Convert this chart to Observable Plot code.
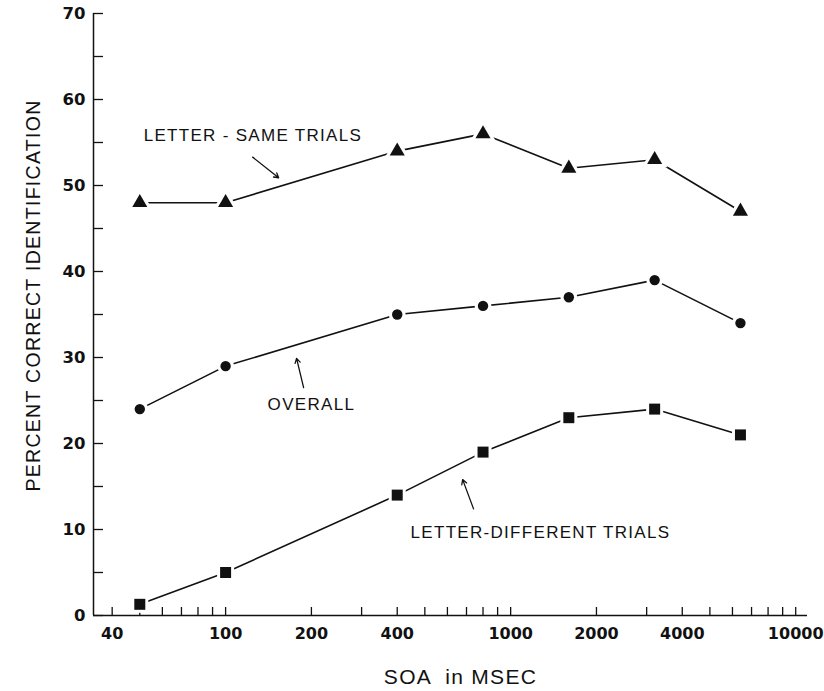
<!DOCTYPE html>
<html>
<head>
<meta charset="utf-8">
<script src="https://cdn.jsdelivr.net/npm/d3@7"></script>
<script src="https://cdn.jsdelivr.net/npm/@observablehq/plot@0.6"></script>
<style>
  html, body { margin: 0; padding: 0; background: #fff; }
  #chart svg [aria-label="text"] text { letter-spacing: 1.3px; }
</style>
</head>
<body>
<div id="chart"></div>
<script>
// ---- data ----
const soa = [50, 100, 400, 800, 1600, 3200, 6400];
const letterSame = [48, 48, 54, 56, 52, 53, 47];
const overall = [24, 29, 35, 36, 37, 39, 34];
const letterDifferent = [1.3, 5, 14, 19, 23, 24, 21];

const seriesNames = ["LETTER - SAME TRIALS", "OVERALL", "LETTER-DIFFERENT TRIALS"];
const seriesValues = [letterSame, overall, letterDifferent];
const seriesSymbols = ["triangle", "circle", "square"];

const xTickLabels = [40, 100, 200, 400, 1000, 2000, 4000, 10000];
const xMinorTicks = [40, 50, 60, 70, 80, 90, 100, 200, 300, 400, 500, 600, 700, 800, 900,
                     1000, 2000, 3000, 4000, 5000, 6000, 7000, 8000, 9000, 10000];
const yTickLabels = [0, 10, 20, 30, 40, 50, 60, 70];
const yMinorTicks = [5, 15, 25, 35, 45, 55, 65];

const xTitle = "SOA  in MSEC";
const yTitle = "PERCENT CORRECT IDENTIFICATION";

// annotation anchors (data units)
const labelX = [51.6, 140.4, 445.6];
const labelY = [55.8, 24.5, 9.65];
const arrowX1 = [124.4, 187.8, 741];
const arrowY1 = [53.3, 26.5, 12.4];
const arrowX2 = [153.5, 177.4, 678.6];
const arrowY2 = [50.9, 29.9, 15.8];

// ---- build ----
const rows = seriesNames.flatMap((name, s) =>
  soa.map((x, i) => ({series: name, x, y: seriesValues[s][i]})));

const W = 824, H = 691;
const mL = 93, mR = 17, mT = 13, mB = 76;
const plotW = W - mL - mR, plotH = H - mT - mB;
const ink = "#111";

const symbolR = {triangle: 5.6, circle: 5.2, square: 6.2};
const haloR = {triangle: 9.6, circle: 8.4, square: 9.6};

const dotMarks = [];
seriesNames.forEach((name, s) => {
  const sym = seriesSymbols[s];
  const d = rows.filter(r => r.series === name);
  dotMarks.push(Plot.dot(d, {x: "x", y: "y", symbol: sym, r: haloR[sym], fill: "white", stroke: "none"}));
  dotMarks.push(Plot.dot(d, {x: "x", y: "y", symbol: sym, r: symbolR[sym], fill: ink, stroke: "none"}));
});

const chart = Plot.plot({
  width: W,
  height: H,
  marginLeft: mL,
  marginRight: mR,
  marginTop: mT,
  marginBottom: mB,
  style: {background: "#fff", color: ink, fontFamily: "'Liberation Sans', Arial, sans-serif"},
  x: {type: "log", domain: [34.4, 11000]},
  y: {domain: [0, 70]},
  marks: [
    // inward ticks
    Plot.ruleX(xMinorTicks, {x: d => d, insetTop: plotH - 8, stroke: ink, strokeWidth: 1.3}),
    Plot.ruleY(yTickLabels.concat(yMinorTicks), {y: d => d, insetRight: plotW - 10, stroke: ink, strokeWidth: 1.3}),
    // axis lines
    Plot.ruleX([34.4], {stroke: ink, strokeWidth: 1.5}),
    Plot.ruleY([0], {stroke: ink, strokeWidth: 1.5}),
    Plot.axisX({ticks: xTickLabels, tickSize: 0, tickPadding: 12, tickFormat: d => String(d),
      fontSize: 16, fontWeight: "bold", fontFamily: "'DejaVu Sans', sans-serif", label: null}),
    Plot.axisY({ticks: yTickLabels, tickSize: 0, tickPadding: 8, tickFormat: d => String(d),
      fontSize: 16.5, fontWeight: "bold", fontFamily: "'DejaVu Sans', sans-serif", label: null}),
    // series
    Plot.line(rows, {x: "x", y: "y", z: "series", stroke: ink, strokeWidth: 1.6}),
    ...dotMarks,
    // annotations
    Plot.text(seriesNames, {x: (d, i) => labelX[i], y: (d, i) => labelY[i], text: d => d,
      textAnchor: "start", lineAnchor: "middle", fontSize: 17, fill: ink}),
    Plot.arrow([0, 1, 2], {x1: i => arrowX1[i], y1: i => arrowY1[i], x2: i => arrowX2[i], y2: i => arrowY2[i],
      stroke: ink, strokeWidth: 1.3, headLength: 6, bend: false}),
    // axis titles
    Plot.text([yTitle], {frameAnchor: "left", rotate: -90, dx: -60, dy: -19, text: d => d,
      textAnchor: "middle", lineAnchor: "middle", fontSize: 19.5, fill: ink}),
    Plot.text([xTitle], {frameAnchor: "bottom", dx: 10, dy: 62, text: d => d,
      textAnchor: "middle", lineAnchor: "middle", fontSize: 21, fill: ink})
  ]
});

document.getElementById("chart").appendChild(chart);
</script>
</body>
</html>
